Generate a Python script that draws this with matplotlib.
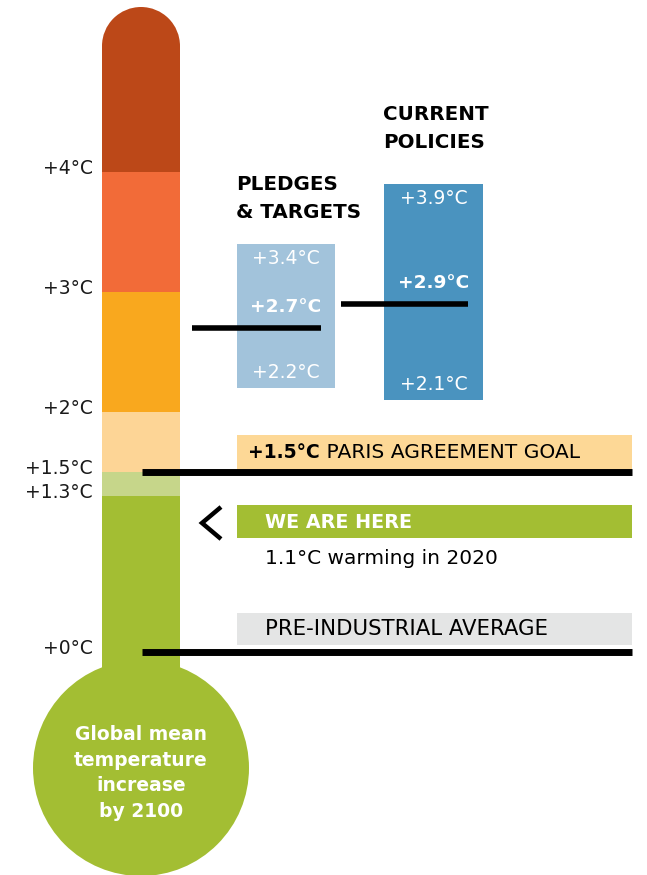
import matplotlib.pyplot as plt
from matplotlib.patches import Rectangle, Ellipse

plt.rcParams['font.family'] = ['DejaVu Sans']

# thermometer scale (°C) and colour bands between the marks
scale_ticks = [0, 1.3, 1.5, 2, 3, 4]
tick_labels = ['+0°C', '+1.3°C', '+1.5°C', '+2°C', '+3°C', '+4°C']
band_edges = [1.3, 1.5, 2, 3, 4]
band_colors = ['#A3BE33', '#C6D68A', '#FDD596', '#F9A81E', '#F26B38', '#BC4818']
tube_top = 5.05

# warming by 2100: low, central, high
pledges = [2.2, 2.7, 3.4]
current = [2.1, 2.9, 3.9]
paris_goal = 1.5
now_warming = 1.1
pre_industrial = 0.0

W, H = 647, 875
PX = 120   # pixels per degree
Y0 = 652   # pixel row of 0 degrees
FS = 13.5


def px(n):
    return n / PX


fig = plt.figure(figsize=(W / 100, H / 100), dpi=100)
ax = fig.add_axes([0, 0, 1, 1])
ax.set_xlim(0, W)
ax.set_ylim((Y0 - H) / PX, Y0 / PX)
ax.axis('off')

# --- thermometer ---
tx, tw = 102, 78
lows = [-0.6] + band_edges
highs = band_edges + [tube_top]
for lo, hi, c in zip(lows, highs, band_colors):
    ax.add_patch(Rectangle((tx, lo), tw, hi - lo, color=c, lw=0))
ax.add_patch(Ellipse((tx + tw / 2, tube_top), tw, px(tw), color=band_colors[-1], lw=0))
bulb_y = px(Y0 - 768)
ax.add_patch(Ellipse((141, bulb_y), 216, px(216), color=band_colors[0], lw=0))
ax.text(141, bulb_y + px(-5), 'Global mean\ntemperature\nincrease\nby 2100', ha='center', va='center',
        color='white', fontsize=FS, fontweight='bold', linespacing=1.45)

for t, lab in zip(scale_ticks, tick_labels):
    ax.text(93, t + px(3), lab, ha='right', va='center', fontsize=FS, color='#1a1a1a')

# --- scenario boxes ---
def scenario(vals, x0, w, col, title, title_y):
    lo, mid, hi = vals
    ax.add_patch(Rectangle((x0, lo), w, hi - lo, color=col, lw=0))
    cx = x0 + w / 2
    ax.text(cx, hi - px(14), f'+{hi}°C', ha='center', va='center', color='white', fontsize=FS)
    ax.text(cx, mid + px(21), f'+{mid}°C', ha='center', va='center', color='white',
            fontsize=13.3, fontweight='bold')
    ax.text(cx, lo + px(16), f'+{lo}°C', ha='center', va='center', color='white', fontsize=FS)
    for i, line in enumerate(title):
        ax.text(x0 - 1, title_y - px(27) * i, line, ha='left', va='center', color='black',
                fontsize=14.3, fontweight='bold')

scenario(pledges, 237, 98, '#A2C3DB', ['PLEDGES', '& TARGETS'], px(Y0 - 185))
scenario(current, 384, 99, '#4A93BF', ['CURRENT', 'POLICIES'], px(Y0 - 115))
ax.plot([192, 321], [pledges[1], pledges[1]], color='black', lw=4, solid_capstyle='butt')
ax.plot([341, 468], [current[1], current[1]], color='black', lw=4, solid_capstyle='butt')

# --- reference levels ---
bx, bw = 237, 395
ax.add_patch(Rectangle((bx, paris_goal + px(2)), bw, px(35), color='#FDD896', lw=0))
ax.plot([142, bx + bw], [paris_goal, paris_goal], color='black', lw=5, solid_capstyle='butt')
t1 = ax.text(248, paris_goal + px(19), f'+{paris_goal}°C', ha='left', va='center',
             fontsize=13.5, fontweight='bold', color='black')
ax.annotate(' PARIS AGREEMENT GOAL', xy=(1, 0.5), xycoords=t1, ha='left', va='center',
            fontsize=14.6, color='black')

ax.add_patch(Rectangle((bx, now_warming - px(18)), bw, px(33), color='#A3BE33', lw=0))
ax.text(265, now_warming - px(2), 'WE ARE HERE', ha='left', va='center', fontsize=13.8,
        fontweight='bold', color='white')
# chevron pointing back at the thermometer
ax.plot([221, 202, 221], [now_warming - px(19), now_warming - px(3), now_warming + px(13)],
        color='black', lw=3.2, solid_joinstyle='miter', solid_capstyle='butt')
ax.text(265, now_warming - px(39), f'{now_warming}°C warming in 2020', ha='left', va='center',
        fontsize=14.5, color='black')

ax.add_patch(Rectangle((bx, pre_industrial + px(7)), bw, px(32), color='#E4E5E5', lw=0))
ax.plot([142, bx + bw], [pre_industrial, pre_industrial], color='black', lw=5, solid_capstyle='butt')
ax.text(265, pre_industrial + px(23), 'PRE-INDUSTRIAL AVERAGE', ha='left', va='center',
        fontsize=15.3, color='black')

fig.savefig('out.png', dpi=100, facecolor='white')
